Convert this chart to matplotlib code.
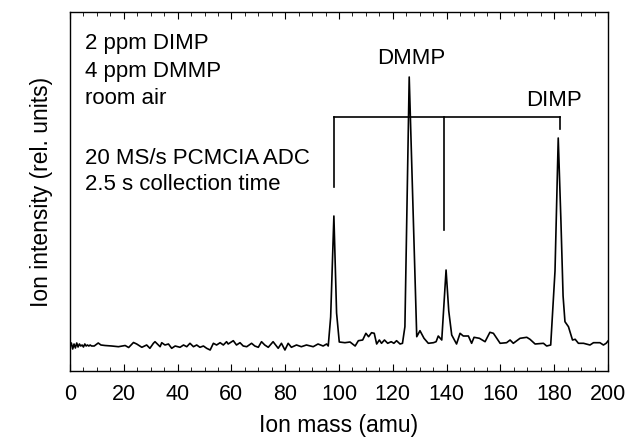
import numpy as np
import matplotlib
matplotlib.use('Agg')
import matplotlib.pyplot as plt
from matplotlib.ticker import MultipleLocator

plt.rcParams['font.family'] = ['Liberation Sans', 'DejaVu Sans']

# spectrum: mass (amu) and intensity (rel. units)
mass = [0, 0.5, 1, 1.5, 2, 2.5, 3, 3.5, 4, 4.5, 5, 5.5, 6, 6.5, 7, 7.5, 8,
        9, 10.5, 11.5, 13, 15.5, 18, 20.5, 21.8, 23.6, 24.8, 26.7, 28.5, 29.7,
        31, 31.6, 33.5, 34.1, 35.3, 36.6, 37.8, 39.1, 40.9, 42.2, 43.4, 44.6,
        45.9, 47.1, 48.3, 49.6, 50.8, 52.1, 53.3, 54.5, 55.8, 57, 58.2, 58.8,
        60.7, 61.9, 63.2, 64.4, 65.7, 67.5, 68.7, 70, 71.2, 72.4, 73.7, 75.5,
        77.4, 78.6, 79.9, 81.1, 82.3, 84.2, 86, 87.9, 90.4, 92.2, 94.1, 95.4,
        96.0, 96.9, 98.1, 99.1, 100.1, 102.2, 104.1, 106, 107.2, 108.8, 110,
        111, 112.1, 113.1, 114, 115, 115.8, 116.9, 118.1, 119.4, 120.4, 121.4,
        122.7, 123.6, 124.5, 126.1, 128.9, 130.1, 131.6, 133.2, 135.1, 136.1,
        136.9, 138.2, 139.8, 140.8, 141.9, 143.7, 145, 146.2, 148.1, 149.3,
        150.2, 152.2, 154.3, 156.1, 157.4, 159.9, 162.3, 163.6, 164.8, 167.3,
        169.8, 171, 172.9, 176, 177.2, 178.7, 180.3, 181.5, 182.5, 183.3, 184,
        185.3, 186.8, 187.8, 189, 190.9, 193.3, 194.6, 197, 198.3, 199.3, 200]
inten = [24, 28, 22, 27, 23, 28, 24, 27, 25, 26, 24, 27, 25, 26, 25, 26, 25,
         25, 28, 26, 25.5, 25, 24.3, 25.5, 23.5, 28.5, 27, 23.7, 26, 22.7,
         27.7, 29.3, 24.3, 28.3, 26, 27, 22.7, 25, 23.7, 26, 24.3, 27.7,
         24.3, 26, 23.7, 25, 22.7, 21, 27.7, 26, 28.3, 26, 29.3, 27,
         30.3, 26, 28.3, 25, 24.3, 27.7, 25, 23.7, 29.3, 26, 23.7, 29.3,
         22.7, 27.7, 21, 27.7, 23.7, 26, 24.3, 26, 24.3, 27, 25, 27,
         25, 54, 155, 58, 29, 28.3, 29, 25, 30.3, 31, 37.7,
         34.3, 38.3, 37.7, 27, 31, 27.7, 31, 27.7, 29.3, 27.7, 30.3,
         27, 27.7, 44.3, 294, 34.3, 40.3, 32.7, 27.7, 28.3, 29.3,
         35, 31, 101, 60, 36, 27, 37.7, 35, 35, 27.7,
         33.7, 32.7, 29.3, 38.7, 37.7, 27.7, 28.3, 31, 27.7, 32.7,
         33.7, 31.7, 27, 27.7, 25, 26, 100, 233, 150, 75, 49.3,
         44.3, 31, 31.7, 27.7, 27.7, 26, 28.3, 28.3, 26, 27.7, 30]

# peak assignment bracket
bracket_y = 253.5
bracket_x = [98.1, 182.2]
drop_x = [98.1, 139.2, 182.2]
drop_end = [184, 141, 242]

fig = plt.figure(figsize=(6.25, 4.44), dpi=100)
ax = fig.add_axes([70/625, 1 - 371/444, 538/625, 359/444])

ax.plot(mass, inten, color='black', lw=1.2)
ax.plot(bracket_x, [bracket_y, bracket_y], color='black', lw=1.2)
for x, y in zip(drop_x, drop_end):
    ax.plot([x, x], [bracket_y, y], color='black', lw=1.2)

ax.text(127, 312, 'DMMP', ha='center', va='center', fontsize=16)
ax.text(180, 270, 'DIMP', ha='center', va='center', fontsize=16)

info = ['2 ppm DIMP', '4 ppm DMMP', 'room air']
for i, s in enumerate(info):
    ax.text(5.6, 327 - 27.5*i, s, ha='left', va='center', fontsize=16)
info2 = ['20 MS/s PCMCIA ADC', '2.5 s collection time']
for i, s in enumerate(info2):
    ax.text(5.6, 213 - 26*i, s, ha='left', va='center', fontsize=16)

ax.set_xlim(0, 200)
ax.set_ylim(0, 359)
ax.xaxis.set_major_locator(MultipleLocator(20))
ax.xaxis.set_minor_locator(MultipleLocator(5))
ax.tick_params(axis='x', which='both', direction='in', top=True, labelsize=15.5, pad=9)
ax.tick_params(axis='x', which='major', length=5)
ax.tick_params(axis='x', which='minor', length=3)
ax.set_yticks([])
for s in ax.spines.values():
    s.set_linewidth(1.0)

ax.set_xlabel('Ion mass (amu)', fontsize=16.5, labelpad=7)
ax.set_ylabel('Ion intensity (rel. units)', fontsize=16.5, labelpad=12)

fig.savefig('out.png', dpi=100)
